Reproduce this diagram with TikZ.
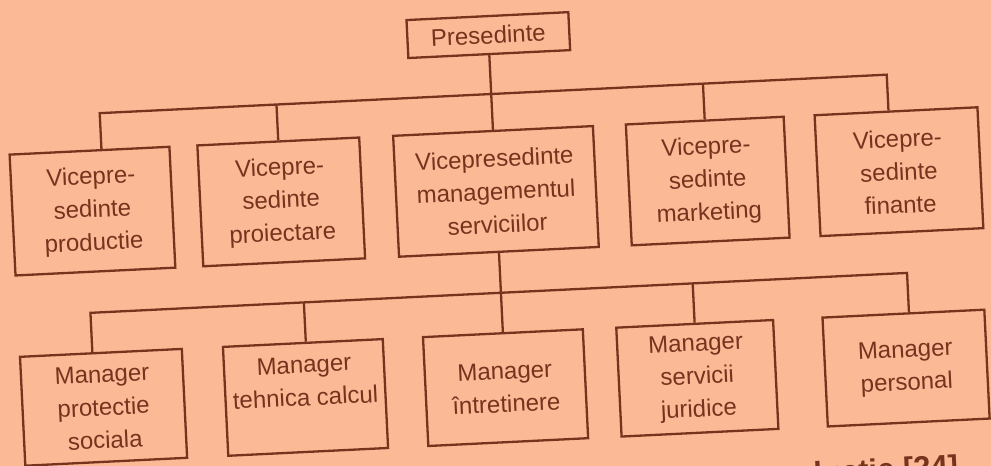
\documentclass[tikz,border=0pt]{standalone}
\usepackage{fontspec}
\setmainfont{Liberation Sans}
\definecolor{bg}{RGB}{252,185,150}
\definecolor{ink}{RGB}{118,52,30}
\begin{document}
\begin{tikzpicture}[x=1pt,y=1pt,
  orgbox/.style={draw=ink, line width=2.3pt, text=ink, align=center, inner sep=0pt,
    font=\fontsize{24}{33}\selectfont, minimum height=121pt},
  mgrbox/.style={orgbox, minimum height=109pt},
  link/.style={draw=ink, line width=2.3pt}]
\fill[bg] (0,0) rectangle (991,466);
\useasboundingbox (0,0) rectangle (991,466);
\clip (0,0) rectangle (991,466);
\begin{scope}[transform canvas={shift={(495,233)}, rotate=2.8}]
  % top
  \node[orgbox, minimum width=162pt, minimum height=38pt] (pres) at (3,198) {Presedinte};
  % vice-presidents
  \node[orgbox, minimum width=160pt] (b1) at (-401,41.5) {Vicepre-\\sedinte\\productie};
  \node[orgbox, minimum width=162pt] (b2) at (-212,41.5) {Vicepre-\\sedinte\\proiectare};
  \node[orgbox, minimum width=200pt] (b3) at (3,41.5) {Vicepresedinte\\managementul\\serviciilor};
  \node[orgbox, minimum width=158pt] (b4) at (215,41.5) {Vicepre-\\sedinte\\marketing};
  \node[orgbox, minimum width=163pt] (b5) at (406.5,41.5) {Vicepre-\\sedinte\\finante};
  % managers
  \node[mgrbox, minimum width=162pt] (b6) at (-399.5,-155) {Manager\\protectie\\sociala};
  \node[mgrbox, minimum width=160pt] (b7) at (-197.3,-155) {Manager\\tehnica calcul\\\mbox{}};
  \node[mgrbox, minimum width=160pt] (b8) at (3,-155) {Manager\\întretinere};
  \node[mgrbox, minimum width=157pt] (b9) at (195,-155) {Manager\\servicii\\juridice};
  \node[mgrbox, minimum width=162pt] (b10) at (404,-155) {Manager\\personal};
  % buses
  \coordinate (bus1) at (0,139);
  \coordinate (bus2) at (0,-60);
  \draw[link] (pres.south) -- (b3.north);
  \draw[link] ([xshift=12pt]b1.north) |- (bus1) -| ([xshift=-7.5pt]b5.north);
  \draw[link] (b2.north) -- (b2.north |- bus1);
  \draw[link] (b4.north) -- (b4.north |- bus1);
  \draw[link] (b3.south) -- (b8.north);
  \draw[link] ([xshift=-8.5pt]b6.north) |- (bus2) -| ([xshift=5.6pt]b10.north);
  \draw[link] ([xshift=3pt]b7.north) -- ([xshift=3pt]b7.north |- bus2);
  \draw[link] (b9.north) -- (b9.north |- bus2);
  % cut-off caption (only its top shows in the reference)
  \node[anchor=base west, inner sep=0pt, text=ink, font=\fontsize{31}{31}\selectfont\bfseries] (cap) at (296,-266) {ductie [24]};
\end{scope}
\end{tikzpicture}
\end{document}
